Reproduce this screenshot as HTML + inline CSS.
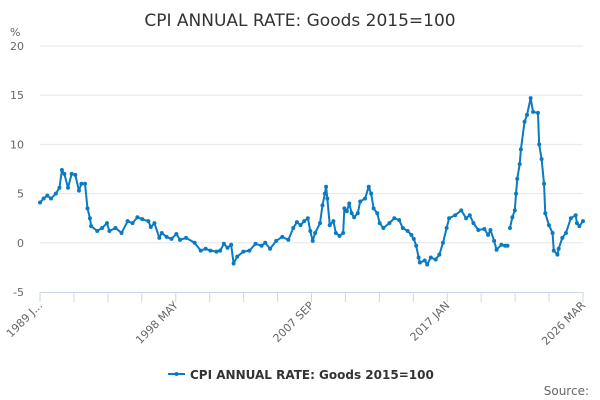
<!DOCTYPE html>
<html><head><meta charset="utf-8"><style>
html,body{margin:0;padding:0;background:#fff;}
svg{display:block;font-family:"DejaVu Sans","Liberation Sans",sans-serif;}
</style></head><body>
<svg id="chart" width="600" height="400">
<text x="300" y="26" text-anchor="middle" font-size="17" fill="#333">CPI ANNUAL RATE: Goods 2015=100</text>
<text x="10" y="36" font-size="11" fill="#666">%</text>
<g id="grid"></g><g id="xaxis"></g><g id="series"></g>
<g>
<line x1="168" y1="374" x2="185" y2="374" stroke="#0a7bc2" stroke-width="2"/>
<circle cx="176.5" cy="374" r="2" fill="#0a7bc2"/>
<text x="190" y="379" font-size="12" font-weight="bold" fill="#333">CPI ANNUAL RATE: Goods 2015=100</text>
</g>
<text x="589" y="395" text-anchor="end" font-size="12" fill="#666">Source:</text>
</svg>
<script>
const dates=["1989-01","1989-04","1989-07","1989-10","1990-02","1990-05","1990-07","1990-09","1990-12","1991-03","1991-06","1991-09","1991-11","1992-02","1992-04","1992-06","1992-07","1992-12","1993-04","1993-08","1993-10","1994-03","1994-08","1995-01","1995-05","1995-09","1996-01","1996-06","1996-08","1996-11","1997-03","1997-05","1997-09","1998-01","1998-05","1998-08","1999-01","1999-08","2000-01","2000-05","2000-09","2001-02","2001-05","2001-08","2001-11","2002-02","2002-04","2002-07","2002-12","2003-05","2003-10","2004-03","2004-06","2004-10","2005-03","2005-08","2006-01","2006-05","2006-08","2006-11","2007-02","2007-05","2007-07","2007-09","2007-11","2008-03","2008-05","2008-07","2008-08","2008-09","2008-11","2009-02","2009-04","2009-07","2009-10","2009-11","2010-01","2010-03","2010-05","2010-07","2010-10","2010-12","2011-04","2011-07","2011-09","2011-11","2012-02","2012-04","2012-07","2012-12","2013-04","2013-08","2013-11","2014-03","2014-06","2014-08","2014-10","2014-12","2015-01","2015-05","2015-07","2015-10","2016-02","2016-05","2016-08","2016-11","2017-01","2017-06","2017-11","2018-03","2018-06","2018-09","2019-01","2019-06","2019-09","2019-11","2020-02","2020-04","2020-08","2020-11","2021-01","2021-02","2021-03","2021-05","2021-07","2021-08","2021-09","2021-11","2021-12","2022-03","2022-05","2022-08","2022-10","2023-02","2023-03","2023-05","2023-07","2023-08","2023-11","2024-02","2024-03","2024-06","2024-07","2024-10","2025-01","2025-05","2025-09","2025-10","2025-12","2026-03"];
const values=[4.1,4.5,4.8,4.5,5.0,5.6,7.4,7.0,5.6,7.0,6.9,5.3,6.0,6.0,3.5,2.5,1.7,1.2,1.5,2.0,1.2,1.5,1.0,2.2,2.0,2.6,2.4,2.2,1.6,2.0,0.5,1.0,0.6,0.4,0.9,0.3,0.5,0,-0.8,-0.6,-0.8,-0.9,-0.8,-0.1,-0.5,-0.2,-2.1,-1.4,-0.9,-0.8,-0.1,-0.3,0,-0.6,0.2,0.6,0.3,1.5,2.1,1.8,2.2,2.5,1.2,0.2,1.0,2.0,3.8,5.0,5.7,4.5,1.8,2.2,1.0,0.7,1.0,3.5,3.2,4.0,3.0,2.6,3.0,4.2,4.5,5.7,5.0,3.5,3.0,2.0,1.5,2.0,2.5,2.3,1.5,1.2,0.8,0.4,-0.3,-1.5,-2.0,-1.8,-2.2,-1.5,-1.7,-1.2,0,1.5,2.5,2.8,3.3,2.5,2.8,2.0,1.3,1.4,0.8,1.3,0.2,-0.7,-0.2,-0.3,-0.3,null,1.5,2.6,3.3,5.0,6.5,8.0,9.5,12.3,13.0,14.7,13.3,13.2,10.0,8.5,6.0,3.0,1.8,1.0,-0.8,-1.2,-0.6,0.5,1.0,2.5,2.8,2.0,1.7,2.2];
const yTicks=[-5,0,5,10,15,20];
const xTickLabels=["1989 J...","1998 MAY","2007 SEP","2017 JAN","2026 MAR"];
const startDate="1989-01", endDate="2026-03";

const NS="http://www.w3.org/2000/svg";
const L=40,R=583,T=46,B=292;
function mi(d){const [y,m]=d.split("-").map(Number);return y*12+m-1;}
const m0=mi(startDate),m1=mi(endDate);
function xS(d){return L+(mi(d)-m0)/(m1-m0)*(R-L);}
function yS(v){return B-(v-(-5))/(20-(-5))*(B-T);}
function mk(tag,attrs,parent){const e=document.createElementNS(NS,tag);for(const k in attrs)e.setAttribute(k,attrs[k]);parent.appendChild(e);return e;}
const grid=document.getElementById("grid");
yTicks.forEach(v=>{
  if(v!==-5){const g=mk("line",{x1:L,x2:R,y1:yS(v),y2:yS(v),stroke:"#e6e6e6","stroke-width":1},grid);
  
  }
  const t=mk("text",{x:24,y:yS(v)+4,"text-anchor":"end","font-size":11,fill:"#666"},grid);
  
  
  t.textContent=v;
});
const xa=document.getElementById("xaxis");
const al=mk("line",{x1:L,x2:R,y1:B+0.5,y2:B+0.5,stroke:"#ccd6eb","stroke-width":1},xa);


for(let i=0;i<=16;i++){
  const x=L+i*(R-L)/16;
  const tk=mk("line",{x1:x,x2:x,y1:B,y2:B+10,stroke:"#ccd6eb","stroke-width":1},xa);
  
  
  if(i%4===0){
    const t=mk("text",{x:x+3,y:B+14,"text-anchor":"end","font-size":11,fill:"#666",transform:`rotate(-45 ${x+3} ${B+14})`},xa);
    
    
    t.textContent=xTickLabels[i/4];
  }
}
const s=document.getElementById("series");
let segs=[],cur=[];
dates.forEach((d,i)=>{const v=values[i];if(v===null){if(cur.length)segs.push(cur);cur=[];}else cur.push([xS(d),yS(v)]);});
if(cur.length)segs.push(cur);
segs.forEach(sg=>{
  const p=mk("polyline",{points:sg.map(p=>p.join(",")).join(" "),fill:"none",stroke:"#0a7bc2","stroke-width":2,"stroke-linejoin":"round"},s);
  
  
});
dates.forEach((d,i)=>{const v=values[i];if(v===null)return;
  const c=mk("circle",{cx:xS(d),cy:yS(v),r:2,fill:"#0a7bc2"},s);
  
  
});
</script>
</body></html>
